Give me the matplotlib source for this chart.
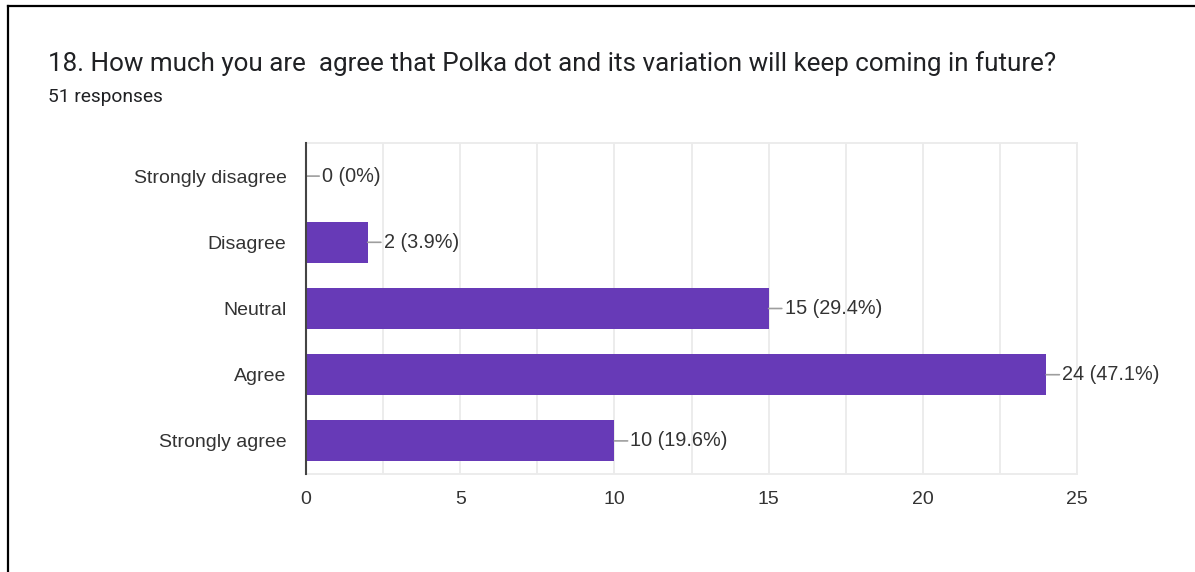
import matplotlib
matplotlib.use("Agg")
import matplotlib.pyplot as plt
from matplotlib.lines import Line2D
import numpy as np

plt.rcParams['font.family'] = ['Liberation Sans', 'DejaVu Sans']

categories = ["Strongly disagree", "Disagree", "Neutral", "Agree", "Strongly agree"]
counts = [0, 2, 15, 24, 10]
labels = ["0 (0%)", "2 (3.9%)", "15 (29.4%)", "24 (47.1%)", "10 (19.6%)"]
title = "18. How much you are  agree that Polka dot and its variation will keep coming in future?"
subtitle = "51 responses"

W, H = 1195, 572
fig = plt.figure(figsize=(W / 100, H / 100), dpi=100)
ax = fig.add_axes([306 / W, 1 - 474 / H, (1077 - 306) / W, (474 - 143) / H])

y = np.arange(len(categories))
ax.barh(y, counts, height=0.62, color="#673ab7", zorder=3)
ax.set_xlim(0, 25)
ax.set_ylim(len(categories) - 0.5, -0.5)

ax.set_xticks(np.arange(0, 26, 5))
ax.set_xticks(np.arange(0, 26, 2.5), minor=True)
ax.set_yticks(y)
ax.set_yticklabels(categories)
ax.tick_params(axis="both", length=0, labelsize=14, colors="#333333")
ax.tick_params(axis="y", pad=14)
ax.tick_params(axis="x", pad=12)
ax.tick_params(axis="x", which="minor", length=0)
ax.grid(axis="x", which="both", color="#ebebeb", linewidth=1.3, zorder=0)

for side in ["top", "right", "bottom"]:
    ax.spines[side].set_color("#ebebeb")
    ax.spines[side].set_linewidth(1.3)
ax.spines["left"].set_color("#444444")
ax.spines["left"].set_linewidth(1.5)
ax.spines["left"].set_zorder(4)

for i, (v, lab) in enumerate(zip(counts, labels)):
    ax.annotate(lab, xy=(v, i), xytext=(16, 0), textcoords="offset pixels",
                ha="left", va="center", fontsize=14.3, color="#333333",
                arrowprops=dict(arrowstyle="-", color="#9e9e9e", lw=1.2,
                                shrinkA=0, shrinkB=0))

fig.text(48 / W, 1 - 64 / H, title, fontsize=18.7, color="#202124", va="center", ha="left",
         family=["Roboto", "DejaVu Sans"])
fig.text(48 / W, 1 - 97 / H, subtitle, fontsize=13.8, color="#202124", va="center", ha="left",
         family=["Roboto", "DejaVu Sans"])

# screenshot frame
fig.add_artist(Line2D([7.5 / W, 1], [1 - 5.5 / H, 1 - 5.5 / H], color="black", lw=1.6))
fig.add_artist(Line2D([7.5 / W, 7.5 / W], [0, 1 - 5.5 / H], color="black", lw=1.6))

fig.savefig("out.png", dpi=100)
